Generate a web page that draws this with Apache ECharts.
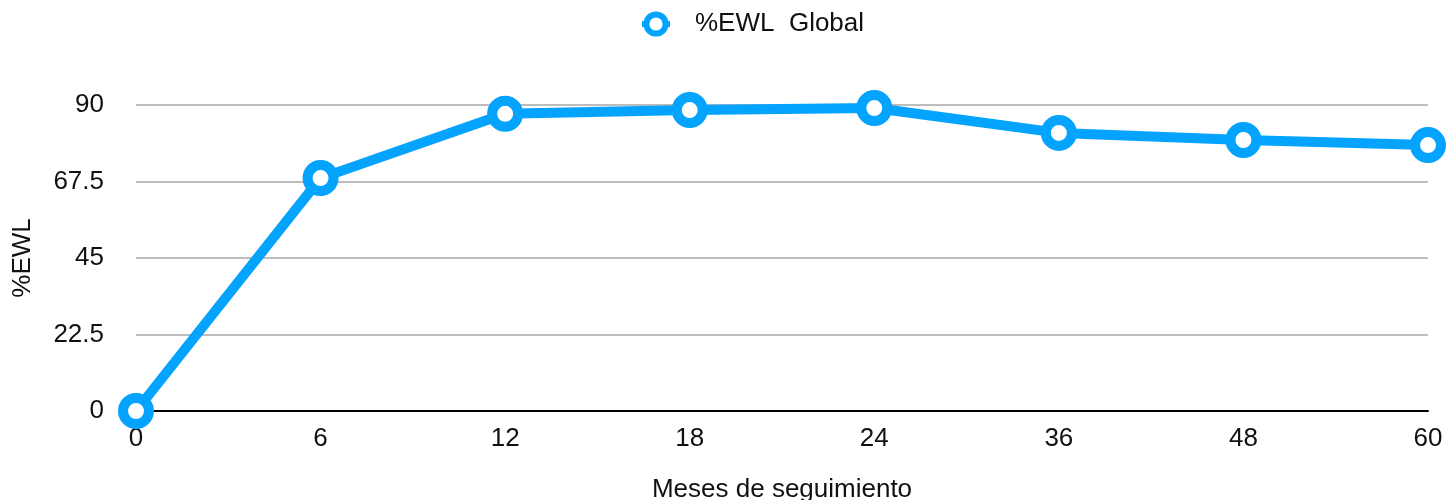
<!DOCTYPE html>
<html>
<head>
<meta charset="utf-8">
<script src="https://cdn.jsdelivr.net/npm/echarts@6/dist/echarts.min.js"></script>
<style>
  html, body { margin: 0; padding: 0; background: #fff; }
  #chart { width: 1447px; height: 500px; }
</style>
</head>
<body>
<div id="chart"></div>
<script>
const months = ['0', '6', '12', '18', '24', '36', '48', '60']
const ewlGlobal = [0, 68.5, 87.4, 88.5, 89.1, 81.8, 79.7, 78.2]
const seriesName = '%EWL  Global'

const blue = '#03a3fe'
const font = 'Liberation Sans, Arial, sans-serif'

const myChart = echarts.init(document.getElementById('chart'))
const option = {
  animation: false,
  textStyle: { fontFamily: font },
  legend: {
    top: 6,
    left: 634,
    itemWidth: 28,
    itemHeight: 24,
    itemStyle: { color: '#fff', borderColor: blue, borderWidth: 6 },
    lineStyle: { color: blue, width: 6 },
    textStyle: { fontSize: 26, color: '#111', fontFamily: font, padding: [0, 0, 0, 20] },
    data: [seriesName]
  },
  grid: { left: 136, right: 19, top: 105, bottom: 89, containLabel: false, outerBoundsMode: 'none' },
  xAxis: {
    type: 'category',
    data: months,
    boundaryGap: false,
    name: 'Meses de seguimiento',
    nameLocation: 'middle',
    nameGap: 66,
    nameTextStyle: { fontSize: 26, color: '#111' },
    axisLine: { lineStyle: { color: '#000', width: 2 } },
    axisTick: { show: false },
    axisLabel: { fontSize: 26, color: '#111', margin: 15 }
  },
  yAxis: {
    type: 'value',
    min: 0,
    max: 90,
    interval: 22.5,
    name: '%EWL',
    nameLocation: 'middle',
    nameGap: 100,
    nameRotate: 90,
    nameTextStyle: { fontSize: 26, color: '#111' },
    axisLine: { show: false },
    axisTick: { show: false },
    axisLabel: { fontSize: 26, color: '#111', margin: 32 },
    splitLine: { lineStyle: { color: '#bdbdbd', width: 2 } }
  },
  series: [
    {
      name: seriesName,
      type: 'line',
      data: ewlGlobal,
      symbol: 'circle',
      symbolSize: 26,
      showAllSymbol: true,
      lineStyle: { color: blue, width: 10 },
      itemStyle: { color: '#fff', borderColor: blue, borderWidth: 10 },
      z: 3
    }
  ]
}
myChart.setOption(option)
</script>
</body>
</html>
